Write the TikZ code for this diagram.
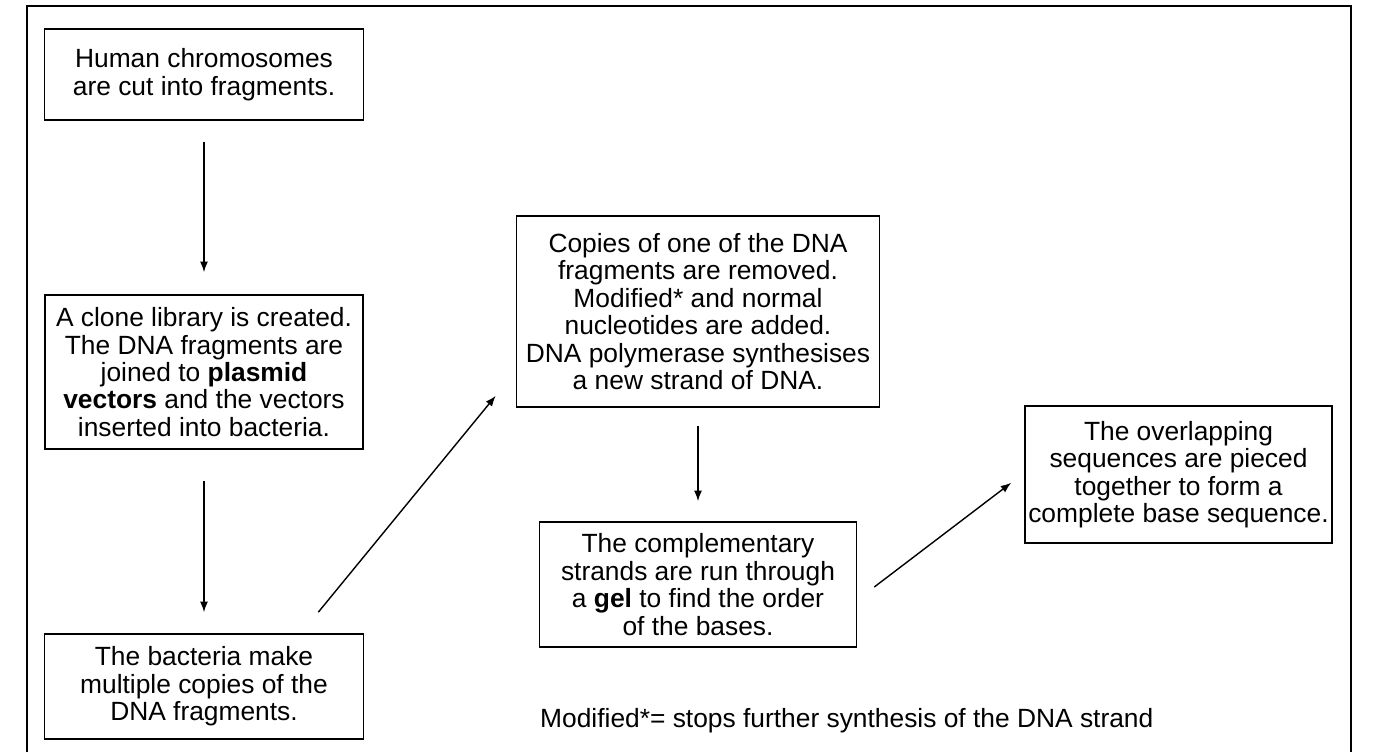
\documentclass[tikz,border=0pt]{standalone}
\usepackage{fontspec}
\setmainfont{Liberation Sans}
\usepackage{tikz}
\usetikzlibrary{arrows.meta,positioning,calc}

\begin{document}
\begin{tikzpicture}[
    stepbox/.style={draw, line width=0.9pt, align=center, inner sep=0pt,
      font=\fontsize{15}{15.6}\selectfont},
    flow/.style={-{Latex[length=6pt,width=4.5pt]}, line width=0.8pt}
  ]
  \useasboundingbox (0,0) rectangle (27.66,15.04);

  % Frame
  \draw[line width=0.8pt] (0.54,0) -- (0.54,14.92) -- (27.02,14.92) -- (27.02,0);

  % Left column
  \node[stepbox, minimum width=6.38cm, minimum height=1.82cm] (chrom) at (4.08,13.55)
    {Human chromosomes\\are cut into fragments.};
  \node[stepbox, minimum width=6.36cm, minimum height=3.08cm] (clone) at (4.08,7.6)
    {A clone library is created.\\The DNA fragments are\\joined to \textbf{plasmid}\\\textbf{vectors} and the vectors\\inserted into bacteria.};
  \node[stepbox, minimum width=6.38cm, minimum height=2.1cm] (copies) at (4.08,1.31)
    {The bacteria make\\multiple copies of the\\DNA fragments.};

  % Middle column
  \node[stepbox, minimum width=7.26cm, minimum height=3.82cm] (synth) at (13.96,8.81)
    {Copies of one of the DNA\\fragments are removed.\\Modified* and normal\\nucleotides are added.\\DNA polymerase synthesises\\a new strand of DNA.};
  \node[stepbox, minimum width=6.34cm, minimum height=2.5cm] (gel) at (13.96,3.35)
    {The complementary\\strands are run through\\a \textbf{gel} to find the order\\of the bases.};

  % Right column
  \node[stepbox, minimum width=6.14cm, minimum height=2.74cm] (piece) at (23.57,5.55)
    {The overlapping\\sequences are pieced\\together to form a\\complete base sequence.};

  % Arrows
  \draw[flow, shorten <=0.42cm, shorten >=0.44cm] (chrom) -- (clone);
  \draw[flow, shorten <=0.62cm, shorten >=0.42cm] (clone) -- (copies);
  \draw[flow] ([shift={(-0.92,0.42)}]copies.north east) -- ([shift={(-0.4,0.24)}]synth.south west);
  \draw[flow, shorten <=0.36cm, shorten >=0.4cm] (synth) -- (gel);
  \draw[flow] ([shift={(0.34,-0.05)}]gel.east) -- ([shift={(-0.26,1.22)}]piece.south west);

  % Footnote
  \node[anchor=base west, font=\fontsize{15}{15.6}\selectfont] (note) at (10.68,0.5)
    {Modified*= stops further synthesis of the DNA strand};
\end{tikzpicture}
\end{document}
